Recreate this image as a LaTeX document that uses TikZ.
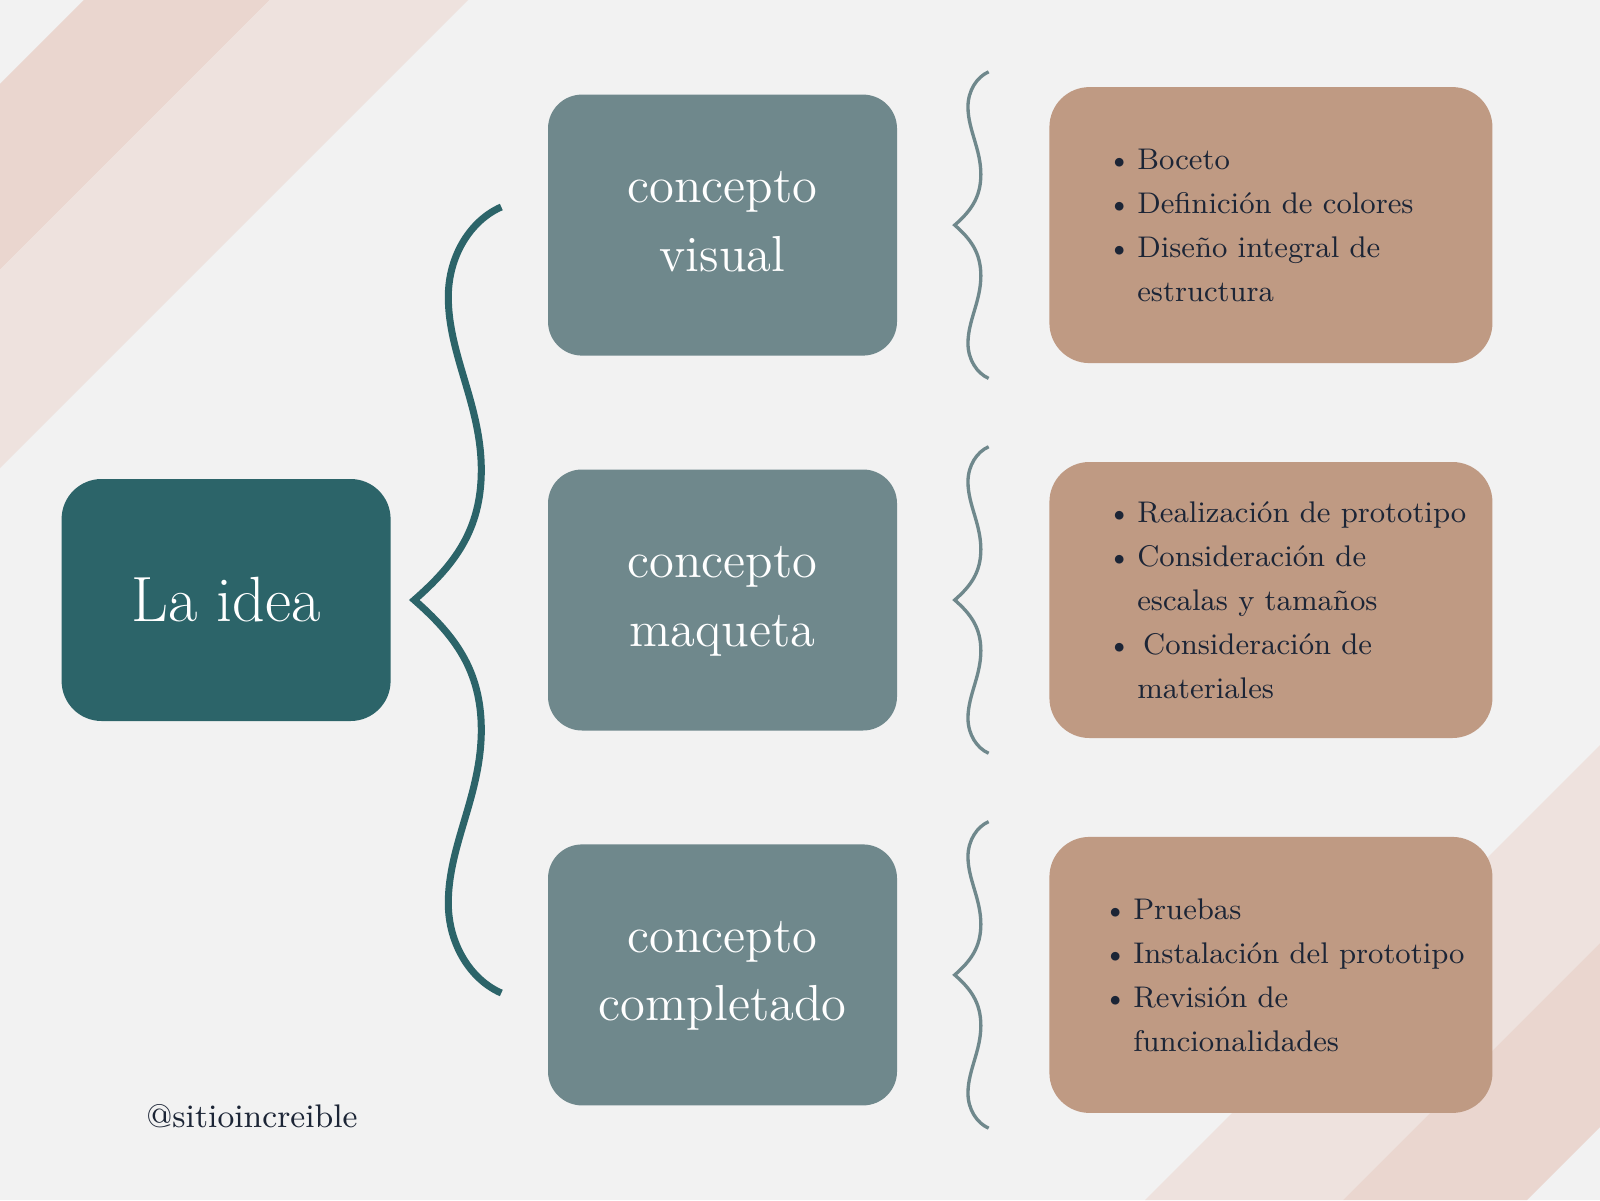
\documentclass[tikz,border=0pt]{standalone}
\usepackage{tikz}
\usetikzlibrary{positioning}

\definecolor{bgcol}{HTML}{F2F2F2}
\definecolor{stripedark}{HTML}{EAD6CF}
\definecolor{stripelight}{HTML}{EEE2DE}
\definecolor{ideateal}{HTML}{2C6469}
\definecolor{conceptgrey}{HTML}{6F888C}
\definecolor{listtan}{HTML}{BF9A83}
\definecolor{inknavy}{HTML}{1C2536}

% bullet and hanging indent for the lists
\newcommand{\bpt}{\makebox[1em][l]{\textbullet}}
\newcommand{\bind}{\hspace*{1em}}
% one curly brace, tip at the origin
\newcommand{\bracepath}{(0.87,3.93) .. controls (0.57,3.80) and (0.34,3.45) .. (0.34,3.03)
  .. controls (0.34,2.45) and (0.67,1.95) .. (0.67,1.30)
  .. controls (0.67,0.70) and (0.40,0.35) .. (0,0)
  .. controls (0.40,-0.35) and (0.67,-0.70) .. (0.67,-1.30)
  .. controls (0.67,-1.95) and (0.34,-2.45) .. (0.34,-3.03)
  .. controls (0.34,-3.45) and (0.57,-3.80) .. (0.87,-3.93)}

\begin{document}
\begin{tikzpicture}[
  ideabox/.style={fill=ideateal, rounded corners=0.4cm, minimum width=3.29cm, minimum height=2.42cm,
    inner sep=0pt, text=white, font=\fontsize{18.2}{22}\selectfont},
  conceptbox/.style={fill=conceptgrey, rounded corners=0.34cm, minimum width=3.49cm, minimum height=2.61cm,
    inner sep=0pt, text=white, align=center, text depth=0.08cm, font=\fontsize{14.4}{19.6}\selectfont},
  listbox/.style={fill=listtan, rounded corners=0.4cm, minimum width=4.43cm, minimum height=2.76cm, inner sep=0pt},
  listtext/.style={anchor=west, inner sep=0pt, text=inknavy, align=left, font=\fontsize{8.5}{12.5}\selectfont},
  bigbrace/.style={draw=ideateal, line width=2pt},
  smallbrace/.style={draw=conceptgrey, line width=0.95pt}]

% Background and stripes
\fill[bgcol] (0,0) rectangle (16,12);
\fill[stripedark] (0.84,12) -- (2.70,12) -- (0,9.30) -- (0,11.16) -- cycle;
\fill[stripelight] (2.70,12) -- (4.68,12) -- (0,7.32) -- (0,9.30) -- cycle;
\fill[stripelight] (11.45,0) -- (13.43,0) -- (16,2.57) -- (16,4.55) -- cycle;
\fill[stripedark] (13.43,0) -- (15.27,0) -- (16,0.73) -- (16,2.57) -- cycle;

% Middle column
\node[conceptbox] (maqueta) at (7.225,6.0) {concepto\\maqueta};
\node[conceptbox, above=1.125cm of maqueta] (visual) {concepto\\visual};
\node[conceptbox, below=1.125cm of maqueta] (completado) {concepto\\completado};

% Main idea
\node[ideabox, left=1.56cm of maqueta] (idea) {La idea};

% Lists
\node[listbox, right=1.51cm of visual] (lvisual) {};
\node[listbox, right=1.51cm of maqueta] (lmaqueta) {};
\node[listbox, right=1.51cm of completado] (lcompletado) {};

\node[listtext] (tvisual) at ([xshift=0.58cm]lvisual.west) {\bpt Boceto\\
  \bpt Definición de colores\\
  \bpt Diseño integral de\\
  \bind estructura};
\node[listtext] (tmaqueta) at ([xshift=0.58cm]lmaqueta.west) {\bpt Realización de prototipo\\
  \bpt Consideración de\\
  \bind escalas y tamaños\\
  \bpt\hspace*{0.2em}Consideración de\\
  \bind materiales};
\node[listtext] (tcompletado) at ([xshift=0.54cm]lcompletado.west) {\bpt Pruebas\\
  \bpt Instalación del prototipo\\
  \bpt Revisión de\\
  \bind funcionalidades};

% Braces
\begin{scope}[shift={(idea.east)}, xshift=0.23cm]
\draw[bigbrace] \bracepath;
\end{scope}
\foreach \n in {visual,maqueta,completado}{
  \begin{scope}[shift={(\n.east)}, xshift=0.57cm, scale=0.39]
  \draw[smallbrace] \bracepath;
  \end{scope}
}

\node[anchor=base, text=inknavy, font=\fontsize{9.3}{11}\selectfont] (handle) at (2.52,0.73) {@sitioincreible};
\end{tikzpicture}
\end{document}
